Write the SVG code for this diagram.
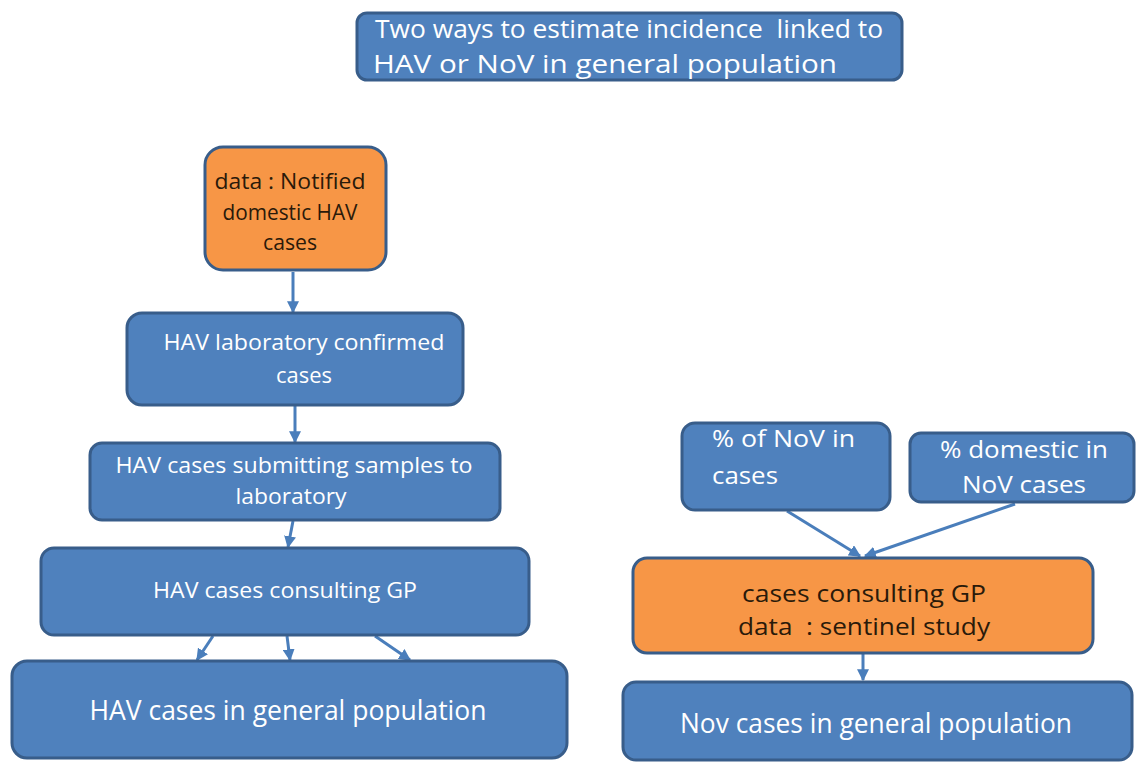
<svg xmlns="http://www.w3.org/2000/svg" width="1136" height="763" viewBox="0 0 1136 763">
<defs>
<style>
.b{fill:#4F81BD;stroke:#385D8A;stroke-width:3}
.o{fill:#F79646;stroke:#385D8A;stroke-width:3}
.t{font-family:"Open Sans","Liberation Sans",sans-serif;fill:#fff;text-anchor:middle}
.d{font-family:"Open Sans","Liberation Sans",sans-serif;fill:#2a1a0a;text-anchor:middle}
.c{stroke:#4A7EBB;stroke-width:3;fill:none;marker-end:url(#ah)}
</style>
<marker id="ah" viewBox="0 0 10 10" refX="9" refY="5" markerWidth="4" markerHeight="4" orient="auto" markerUnits="strokeWidth">
<path d="M0,0 L10,5 L0,10 z" fill="#4A7EBB"/>
</marker>
</defs>
<rect width="1136" height="763" fill="#fff"/>
<g id="connectors">
<line class="c" x1="293" y1="272" x2="293" y2="312"/>
<line class="c" x1="295" y1="406" x2="295" y2="442"/>
<line class="c" x1="293" y1="521" x2="288" y2="547"/>
<line class="c" x1="213" y1="636" x2="197" y2="660"/>
<line class="c" x1="287" y1="636" x2="290" y2="660"/>
<line class="c" x1="375" y1="636" x2="410" y2="660"/>
<line class="c" x1="787" y1="511" x2="860" y2="556"/>
<line class="c" x1="1015" y1="504" x2="865" y2="556"/>
<line class="c" x1="863" y1="654" x2="863" y2="680"/>
</g>
<g id="title">
<rect class="b" x="357" y="13" width="545" height="67" rx="10"/>
<text class="t" font-size="25" x="629" y="38" xml:space="preserve" textLength="508" lengthAdjust="spacingAndGlyphs">Two ways to estimate incidence  linked to</text>
<text class="t" font-size="25" x="605" y="73" textLength="464" lengthAdjust="spacingAndGlyphs">HAV or NoV in general population</text>
</g>
<g id="n1">
<rect class="o" x="205" y="147" width="181" height="123" rx="18"/>
<text class="d" font-size="21" x="290" y="189" textLength="151" lengthAdjust="spacingAndGlyphs">data : Notified</text>
<text class="d" font-size="21" x="290" y="220" textLength="135" lengthAdjust="spacingAndGlyphs">domestic HAV</text>
<text class="d" font-size="21" x="290" y="250" textLength="54" lengthAdjust="spacingAndGlyphs">cases</text>
</g>
<g id="n2">
<rect class="b" x="127" y="313" width="336" height="92" rx="15"/>
<text class="t" font-size="21" x="304" y="350" textLength="281" lengthAdjust="spacingAndGlyphs">HAV laboratory confirmed</text>
<text class="t" font-size="21" x="304" y="383" textLength="56" lengthAdjust="spacingAndGlyphs">cases</text>
</g>
<g id="n3">
<rect class="b" x="90" y="443" width="410" height="77" rx="12"/>
<text class="t" font-size="21" x="294" y="473" textLength="357" lengthAdjust="spacingAndGlyphs">HAV cases submitting samples to</text>
<text class="t" font-size="21" x="291" y="504" textLength="111" lengthAdjust="spacingAndGlyphs">laboratory</text>
</g>
<g id="n4">
<rect class="b" x="41" y="548" width="488" height="87" rx="13"/>
<text class="t" font-size="21" x="285" y="598" textLength="264" lengthAdjust="spacingAndGlyphs">HAV cases consulting GP</text>
</g>
<g id="n5">
<rect class="b" x="12" y="661" width="555" height="97" rx="15"/>
<text class="t" font-size="27" x="288" y="720" textLength="397" lengthAdjust="spacingAndGlyphs">HAV cases in general population</text>
</g>
<g id="n6">
<rect class="b" x="682" y="423" width="208" height="87" rx="13"/>
<text class="t" font-size="24" x="712" y="447" style="text-anchor:start" textLength="143" lengthAdjust="spacingAndGlyphs">% of NoV in</text>
<text class="t" font-size="24" x="712" y="484" style="text-anchor:start" textLength="66" lengthAdjust="spacingAndGlyphs">cases</text>
</g>
<g id="n7">
<rect class="b" x="910" y="433" width="224" height="69" rx="11"/>
<text class="t" font-size="24" x="1024" y="458" textLength="168" lengthAdjust="spacingAndGlyphs">% domestic in</text>
<text class="t" font-size="24" x="1024" y="493" textLength="124" lengthAdjust="spacingAndGlyphs">NoV cases</text>
</g>
<g id="n8">
<rect class="o" x="633" y="558" width="460" height="95" rx="14"/>
<text class="d" font-size="24" x="864" y="602" textLength="244" lengthAdjust="spacingAndGlyphs">cases consulting GP</text>
<text class="d" font-size="24" x="864" y="635" xml:space="preserve" textLength="252" lengthAdjust="spacingAndGlyphs">data  : sentinel study</text>
</g>
<g id="n9">
<rect class="b" x="623" y="682" width="509" height="78" rx="13"/>
<text class="t" font-size="27" x="876" y="733" textLength="392" lengthAdjust="spacingAndGlyphs">Nov cases in general population</text>
</g>
</svg>
